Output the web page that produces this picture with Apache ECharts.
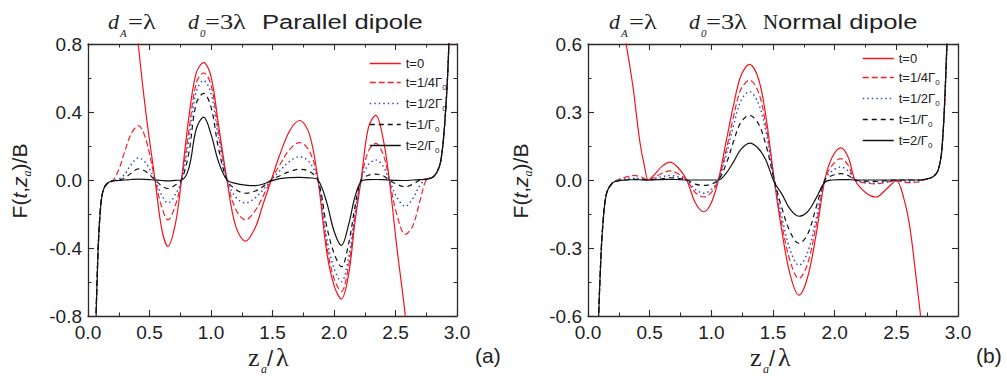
<!DOCTYPE html>
<html>
<head>
<meta charset="utf-8">
<script src="https://cdn.jsdelivr.net/npm/echarts@6/dist/echarts.min.js"></script>
<style>
  html, body { margin: 0; padding: 0; background: #fff; }
  #chart { width: 1007px; height: 377px; }
</style>
</head>
<body>
<div id="chart"></div>
<script>
// ---- curve samples: F(t, z_a)/B against z_a/lambda ----
const NAMES = ['t=0', 't=1/4Γ0', 't=1/2Γ0', 't=1/Γ0', 't=2/Γ0'];

// (a) parallel dipole
const zA = [0.04, 0.06, 0.08, 0.10, 0.12, 0.15, 0.20, 0.25, 0.30, 0.35,
            0.41, 0.47, 0.545, 0.60, 0.65, 0.71, 0.76, 0.82, 0.88, 0.94,
            1.00, 1.06, 1.13, 1.20, 1.28, 1.36, 1.42, 1.49, 1.56, 1.64,
            1.72, 1.80, 1.87, 1.94, 2.00, 2.06, 2.12, 2.17, 2.22, 2.28,
            2.34, 2.40, 2.45, 2.51, 2.58, 2.64, 2.70, 2.75, 2.80, 2.84,
            2.87, 2.90, 2.93, 2.96];
const parT0 = [null, null, null, null, null, null, null, null, 1.9, 1.25,
               0.79, 0.40, 0, -0.29, -0.39, -0.26, 0, 0.37, 0.63, 0.69,
               0.61, 0.33, 0, -0.27, -0.36, -0.28, -0.15, 0, 0.15, 0.29,
               0.35, 0.27, 0, -0.42, -0.62, -0.70, -0.55, -0.25, 0, 0.31,
               0.38, 0.24, 0, -0.39, -0.80, -1.25, null, null, null, null,
               null, null, null, null];
const parT14 = [-2.0, -1.0, -0.45, -0.18, -0.07, -0.025, -0.005, 0.06, 0.17, 0.27,
                0.32, 0.24, 0, -0.16, -0.235, -0.15, 0, 0.29, 0.57, 0.63,
                0.56, 0.29, 0, -0.17, -0.235, -0.18, -0.10, 0, 0.09, 0.18,
                0.22, 0.17, 0, -0.38, -0.58, -0.655, -0.50, -0.22, 0, 0.17,
                0.215, 0.15, 0, -0.20, -0.32, -0.27, -0.12, 0.0, 0.015, 0.05,
                0.12, 0.33, 0.72, 1.5];
const parT12 = [-2.0, -1.0, -0.45, -0.18, -0.07, -0.025, -0.005, 0.005, 0.035, 0.09,
                0.13, 0.10, 0, -0.09, -0.135, -0.085, 0, 0.235, 0.52, 0.585,
                0.51, 0.25, 0, -0.10, -0.135, -0.105, -0.06, 0, 0.055, 0.11,
                0.137, 0.105, 0, -0.34, -0.52, -0.598, -0.45, -0.20, 0, 0.09,
                0.118, 0.08, 0, -0.10, -0.155, -0.11, -0.03, 0.005, 0.015, 0.05,
                0.12, 0.33, 0.72, 1.5];
const parT1 = [-2.0, -1.0, -0.45, -0.18, -0.07, -0.025, -0.005, 0.0, 0.012, 0.04,
               0.065, 0.05, 0, -0.035, -0.05, -0.03, 0, 0.16, 0.45, 0.51,
               0.43, 0.19, 0, -0.055, -0.078, -0.065, -0.04, 0, 0.025, 0.05,
               0.063, 0.05, 0, -0.27, -0.43, -0.51, -0.37, -0.16, 0, 0.028,
               0.035, 0.025, 0, -0.025, -0.04, -0.025, 0.0, 0.005, 0.015, 0.05,
               0.12, 0.33, 0.72, 1.5];
const parT2 = [-2.0, -1.0, -0.45, -0.18, -0.07, -0.025, -0.005, -0.003, 0.0, 0.003,
               0.005, 0.004, 0, -0.003, -0.005, -0.002, 0, 0.07, 0.30, 0.37,
               0.27, 0.11, 0, -0.02, -0.03, -0.033, -0.025, -0.005, 0.008, 0.014,
               0.016, 0.013, 0, -0.13, -0.30, -0.385, -0.26, -0.10, -0.01, 0.002,
               0.003, 0.002, 0, -0.002, -0.003, 0.0, 0.002, 0.005, 0.015, 0.05,
               0.12, 0.33, 0.72, 1.5];

// (b) normal dipole
const zB = [0.06, 0.08, 0.10, 0.12, 0.15, 0.20, 0.25, 0.30, 0.34, 0.37,
            0.42, 0.46, 0.49, 0.54, 0.60, 0.665, 0.73, 0.80, 0.87, 0.94,
            1.00, 1.057, 1.12, 1.18, 1.24, 1.31, 1.38, 1.44, 1.51, 1.57,
            1.64, 1.71, 1.78, 1.85, 1.92, 1.98, 2.05, 2.11, 2.165, 2.25,
            2.335, 2.42, 2.50, 2.56, 2.61, 2.66, 2.70, 2.75, 2.80, 2.84,
            2.87, 2.90, 2.93, 2.96];
const norT0 = [null, null, null, null, null, null, 1.0, 0.64, 0.50, 0.39,
               0.17, 0.055, 0, 0.025, 0.06, 0.079, 0.055, 0, -0.10, -0.14,
               -0.10, 0, 0.17, 0.33, 0.46, 0.51, 0.45, 0.29, 0, -0.22,
               -0.42, -0.508, -0.43, -0.24, 0, 0.10, 0.142, 0.10, 0, -0.055,
               -0.075, -0.04, -0.003, -0.08, -0.21, -0.43, -0.62, -0.95, null, null,
               null, null, null, null];
const norT14 = [-1.3, -0.72, -0.40, -0.20, -0.06, -0.012, 0.003, 0.012, 0.018, 0.02,
                0.015, 0.006, 0, 0.012, 0.03, 0.04, 0.028, 0, -0.055, -0.075,
                -0.055, 0, 0.13, 0.28, 0.40, 0.44, 0.39, 0.25, 0, -0.19,
                -0.36, -0.435, -0.37, -0.20, 0, 0.065, 0.094, 0.065, 0, -0.013,
                -0.017, -0.01, -0.003, -0.01, -0.012, -0.01, -0.005, 0.005, 0.015, 0.045,
                0.14, 0.45, 0.95, 1.8];
const norT12 = [-1.3, -0.72, -0.40, -0.20, -0.06, -0.012, -0.002, 0.005, 0.008, 0.008,
                0.006, 0.003, 0, 0.006, 0.015, 0.02, 0.014, 0, -0.042, -0.058,
                -0.042, 0, 0.11, 0.24, 0.35, 0.39, 0.34, 0.22, 0, -0.16,
                -0.31, -0.376, -0.32, -0.17, 0, 0.04, 0.057, 0.04, 0, -0.01,
                -0.014, -0.008, -0.002, -0.004, -0.005, -0.003, 0.0, 0.005, 0.015, 0.045,
                0.14, 0.45, 0.95, 1.8];
const norT1 = [-1.3, -0.72, -0.40, -0.20, -0.06, -0.012, -0.003, 0.0, 0.002, 0.003,
               0.002, 0.001, 0, 0.002, 0.005, 0.01, 0.007, 0, -0.018, -0.024,
               -0.018, 0, 0.07, 0.17, 0.255, 0.285, 0.25, 0.16, 0, -0.12,
               -0.23, -0.28, -0.24, -0.12, 0, 0.02, 0.028, 0.02, 0, -0.005,
               -0.006, -0.003, 0.0, 0.0, 0.0, 0.0, 0.0, 0.005, 0.015, 0.045,
               0.14, 0.45, 0.95, 1.8];
const norT2 = [-1.3, -0.72, -0.40, -0.20, -0.06, -0.012, -0.003, 0.0, 0.001, 0.001,
               0.001, 0.0, 0, 0.001, 0.002, 0.003, 0.002, 0, 0.0, 0.0,
               0.0, 0.0, 0.03, 0.08, 0.135, 0.163, 0.14, 0.09, -0.01, -0.06,
               -0.13, -0.16, -0.14, -0.08, -0.01, 0.0, 0.002, 0.002, 0, 0.0,
               0.0, 0.0, 0.0, 0.0, 0.0, 0.0, 0.0, 0.005, 0.015, 0.045,
               0.14, 0.45, 0.95, 1.8];

// ---- styling ----
const SANS = '"Liberation Sans", Arial, sans-serif';
const SERIF = '"Liberation Serif", "Times New Roman", serif';
const INK = '#222';
const AX = '#2a2a2a';
const LINE_STYLES = [
  { color: '#f0141c', type: 'solid', width: 1.2 },
  { color: '#f0202a', type: [6, 3], width: 1.2 },
  { color: '#2f4fcc', type: [1.5, 3], width: 1.5 },
  { color: '#111111', type: [5, 4], width: 1.2 },
  { color: '#111111', type: 'solid', width: 1.2 }
];

function curveSeries(xs, sets, xi, yi) {
  return sets.map((ys, k) => ({
    type: 'line',
    name: NAMES[k],
    xAxisIndex: xi,
    yAxisIndex: yi,
    data: xs.map((x, i) => [x, ys[i]]).filter(p => p[1] !== null),
    smooth: 0.35,
    symbol: 'none',
    showSymbol: false,
    clip: true,
    silent: true,
    color: LINE_STYLES[k].color,
    lineStyle: Object.assign({}, LINE_STYLES[k]),
    z: 2 + k
  }));
}

const fmtTick = v => (Math.abs(v) < 1e-9 ? '0.0' : v.toFixed(1));

function xAxisCfg(grid, pos, labels) {
  return {
    type: 'value', gridIndex: grid, position: pos,
    min: 0, max: 3, interval: 0.5,
    axisLine: { show: true, onZero: false, lineStyle: { color: AX, width: 1.3 } },
    axisTick: { show: true, inside: true, length: 6, lineStyle: { color: AX, width: 1.1 } },
    minorTick: { show: true, splitNumber: 2, length: 3.5, lineStyle: { color: AX, width: 1 } },
    splitLine: { show: false },
    minorSplitLine: { show: false },
    axisLabel: { show: labels, margin: 7, fontSize: 19, fontFamily: SANS, color: INK, formatter: fmtTick,
                 showMinLabel: true, showMaxLabel: true }
  };
}
function yAxisCfg(grid, pos, labels, lim, step) {
  return {
    type: 'value', gridIndex: grid, position: pos,
    min: -lim, max: lim, interval: step,
    axisLine: { show: true, onZero: false, lineStyle: { color: AX, width: 1.3 } },
    axisTick: { show: true, inside: true, length: 6, lineStyle: { color: AX, width: 1.1 } },
    minorTick: { show: true, splitNumber: 2, length: 3.5, lineStyle: { color: AX, width: 1 } },
    splitLine: { show: false },
    minorSplitLine: { show: false },
    axisLabel: { show: labels, margin: 6, fontSize: 19, fontFamily: SANS, color: INK, formatter: fmtTick,
                 showMinLabel: true, showMaxLabel: true }
  };
}

function legendCfg(left, top) {
  return {
    data: NAMES.map((n, k) => ({
      name: n,
      itemStyle: { opacity: 0 },
      lineStyle: { color: LINE_STYLES[k].color, type: LINE_STYLES[k].type, width: 1.5 }
    })),
    orient: 'vertical', left: left, top: top,
    padding: 0, itemWidth: 31, itemHeight: 10, itemGap: 4,
    selectedMode: false,
    textStyle: {
      color: INK, fontFamily: SANS, fontSize: 13,
      rich: {
        m0: { fontSize: 13, fontFamily: SANS, color: INK, lineHeight: 10 },
        m: { fontSize: 13, fontFamily: SANS, color: INK, lineHeight: 14 },
        s: { fontSize: 8, fontFamily: SANS, color: INK, lineHeight: 8, padding: [9, 0, 0, 0] }
      }
    },
    formatter: name => name.indexOf('Γ') < 0
      ? '{m0|' + name + '}'
      : '{m|' + name.slice(0, -1) + '}{s|' + name.slice(-1) + '}'
  };
}

// ---- text pieces: panel headings, axis titles, panel tags ----
const G = [];
function txt(x, baseline, s, fs, fam, opt) {
  opt = opt || {};
  G.push({
    type: 'text', x: x, y: baseline - 0.3 * fs, scaleX: opt.sx || 1, silent: true,
    style: { text: s, fontSize: fs, fontFamily: fam, fontStyle: opt.it ? 'italic' : 'normal',
             fill: INK, align: 'left', verticalAlign: 'middle' }
  });
}
function heading(dx, word, serifLead) {
  txt(108 + dx, 28, 'd', 22, SERIF, { it: true });
  txt(120 + dx, 36, 'A', 11, SERIF, { it: true });
  txt(128 + dx, 28, '=λ', 22, SERIF, { sx: 1.2 });
  txt(188 + dx, 28, 'd', 22, SERIF, { it: true });
  txt(200 + dx, 36, '0', 11, SERIF, { it: true });
  txt(205 + dx, 28, '=3λ', 22, SERIF, { sx: 1.2 });
  if (serifLead) {
    txt(262 + dx, 28, serifLead, 21, SERIF);
    txt(277 + dx, 28, word, 21, SANS, { sx: 1.22 });
  } else {
    txt(262 + dx, 28, word, 21, SANS, { sx: 1.22 });
  }
}
heading(0, 'Parallel dipole');
heading(501, 'ormal dipole', 'N');

function xTitle(dx) {
  txt(248 + dx, 365, 'z', 26, SERIF);
  txt(261 + dx, 373, 'a', 12, SERIF, { it: true });
  txt(267 + dx, 365, '/', 22, SANS);
  txt(276 + dx, 365, 'λ', 26, SERIF);
}
xTitle(0);
xTitle(502);

function yTitle(x, y) {
  G.push({
    type: 'text', x: x, y: y, rotation: Math.PI / 2, silent: true,
    style: {
      text: '{m|F(}{i|t}{m|,}{i|z}{s|a}{m|)/B}',
      align: 'center', verticalAlign: 'middle', fill: INK,
      rich: {
        m: { fontSize: 21, fontFamily: SANS, fill: INK, lineHeight: 28 },
        i: { fontSize: 21, fontFamily: SANS, fontStyle: 'italic', fill: INK, lineHeight: 28 },
        s: { fontSize: 12, fontFamily: SERIF, fontStyle: 'italic', fill: INK, lineHeight: 12, padding: [16, 0, 0, 0] }
      }
    }
  });
}
yTitle(19, 181);
yTitle(520, 181);

txt(475, 362, '(a)', 21, SANS);
txt(976, 362, '(b)', 21, SANS);

const chart = echarts.init(document.getElementById('chart'), null, { renderer: 'svg' });
chart.setOption({
  animation: false,
  backgroundColor: '#ffffff',
  grid: [
    { left: 88, top: 44, width: 369, height: 272, containLabel: false, outerBoundsMode: 'none' },
    { left: 588, top: 44, width: 370, height: 272, containLabel: false, outerBoundsMode: 'none' }
  ],
  xAxis: [
    xAxisCfg(0, 'bottom', true), xAxisCfg(0, 'top', false),
    xAxisCfg(1, 'bottom', true), xAxisCfg(1, 'top', false)
  ],
  yAxis: [
    yAxisCfg(0, 'left', true, 0.8, 0.4), yAxisCfg(0, 'right', false, 0.8, 0.4),
    yAxisCfg(1, 'left', true, 0.6, 0.3), yAxisCfg(1, 'right', false, 0.6, 0.3)
  ],
  legend: [legendCfg(369, 57), legendCfg(862, 52)],
  series: [].concat(
    curveSeries(zA, [parT0, parT14, parT12, parT1, parT2], 0, 0),
    curveSeries(zB, [norT0, norT14, norT12, norT1, norT2], 2, 2)
  ),
  graphic: G
});
</script>
</body>
</html>
